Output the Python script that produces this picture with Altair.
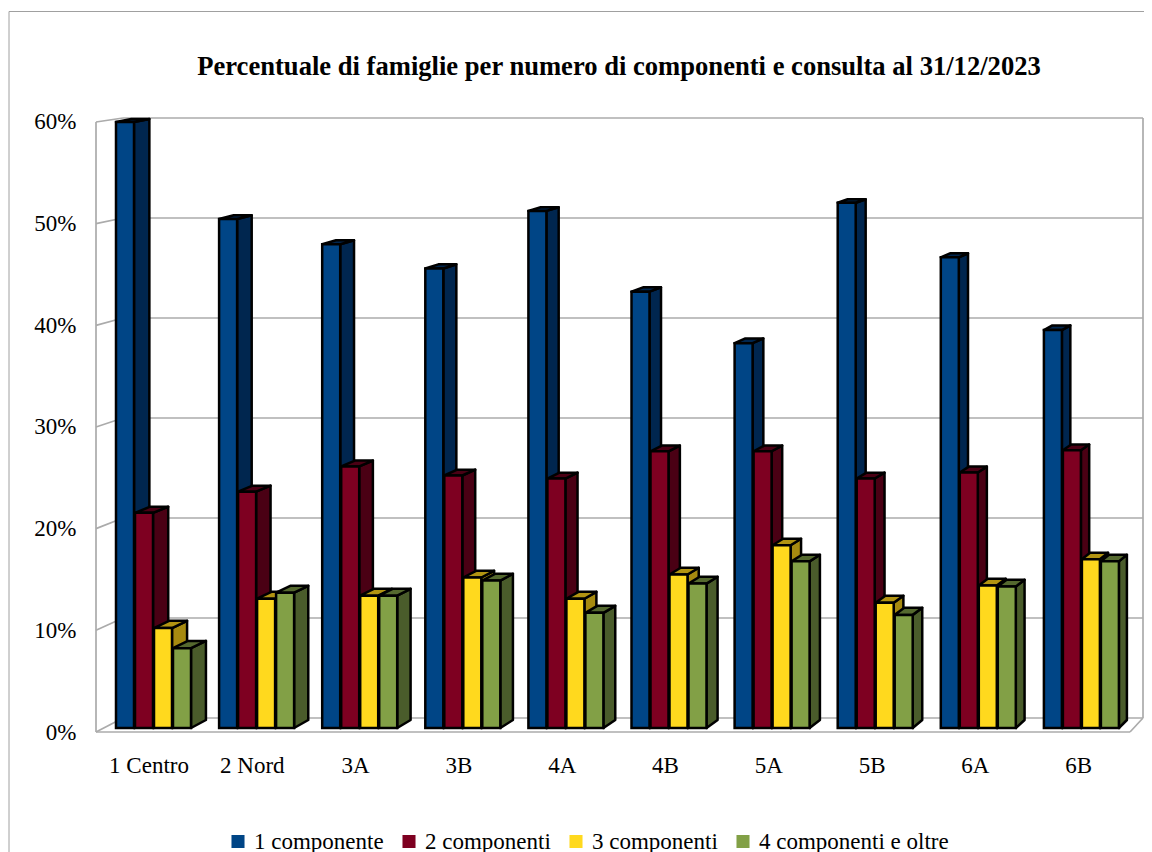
import altair as alt
import pandas as pd

CATEGORIES = ["1 Centro", "2 Nord", "3A", "3B", "4A", "4B", "5A", "5B", "6A", "6B"]
SERIES = ["1 componente", "2 componenti", "3 componenti", "4 componenti e oltre"]
V1 = [60.0, 50.4, 47.9, 45.5, 51.2, 43.2, 38.1, 52.0, 46.6, 39.4]
V2 = [21.3, 23.4, 25.9, 25.0, 24.7, 27.4, 27.4, 24.7, 25.3, 27.5]
V3 = [9.9, 12.8, 13.1, 14.9, 12.8, 15.2, 18.1, 12.4, 14.1, 16.7]
V4 = [7.9, 13.4, 13.1, 14.6, 11.4, 14.3, 16.5, 11.2, 14.0, 16.5]
VALUES = [V1, V2, V3, V4]
FRONT = ["#004586", "#7E0021", "#FFD91E", "#82A046"]
SIDE = ["#00264F", "#4A0014", "#A68A10", "#4A5C2B"]
TOP = ["#00264F", "#4A0014", "#B29412", "#55692F"]
TICKS = [0, 10, 20, 30, 40, 50, 60]
FONT = "Liberation Serif"
GRAY = "#ABABAB"

W, H = 1136, 844
BOTTOM = 8 + H
RIGHT = 8 + W


def ux(p):  # page pixel -> x unit (one unit per group)
    return (p - 148.5) / 103.3


XDOM = [ux(8), ux(RIGHT)]
YFRONT = [(732 - BOTTOM) / 10.167, (732 - 8) / 10.167]
YBAR = [(728 - BOTTOM) / 10.1, (728 - 8) / 10.1]
xs = alt.Scale(domain=XDOM, nice=False, zero=False)
yf = alt.Scale(domain=YFRONT, nice=False, zero=False)
yb = alt.Scale(domain=YBAR, nice=False, zero=False)

xaxis = alt.Axis(
    values=list(range(10)), title=None, domain=False, ticks=False, grid=False,
    labelExpr="['" + "','".join(CATEGORIES) + "'][datum.value]",
    labelFont=FONT, labelFontSize=23, labelColor="#000000", labelPadding=0,
    labelBaseline="middle", offset=-(BOTTOM - 765), labelFlush=False, labelOverlap=False)


def back(v):  # back-plane level in front-plane units
    return (732 - (718 - 10 * v)) / 10.167


WALL_R = RIGHT - 1
walls = []
for t in TICKS:
    walls.append(dict(x=ux(123), x2=ux(WALL_R), y=back(t), y2=back(t)))
    walls.append(dict(x=ux(96), x2=ux(123), y=t, y2=back(t)))
walls.append(dict(x=ux(96), x2=ux(96), y=0, y2=60))
walls.append(dict(x=ux(WALL_R), x2=ux(WALL_R), y=back(0), y2=back(60)))
walls.append(dict(x=ux(1130), x2=ux(WALL_R), y=0, y2=back(0)))
walls.append(dict(x=ux(96), x2=ux(1130), y=0, y2=0))
walls_df = pd.DataFrame(walls)

wall_layer = alt.Chart(walls_df).mark_rule(color=GRAY, strokeWidth=1.7).encode(
    x=alt.X("x:Q", scale=xs, axis=xaxis),
    x2="x2:Q",
    y=alt.Y("y:Q", scale=yf, axis=alt.Axis(
        values=TICKS, title=None, domain=False, grid=False, ticks=False,
        labelExpr="datum.value + '%'", labelFont=FONT, labelFontSize=23,
        labelColor="#000000", labelPadding=20, offset=-88, labelBaseline="middle")),
    y2="y2:Q",
)

frame_df = pd.DataFrame({"k": [0]})
frame_top = alt.Chart(frame_df).mark_rule(color="#A0A0A0", strokeWidth=1).encode(
    x=alt.value(1), x2=alt.value(W), y=alt.value(3.5))
frame_left = alt.Chart(frame_df).mark_rule(color="#A0A0A0", strokeWidth=1).encode(
    x=alt.value(1), y=alt.value(3.5), y2=alt.value(H))


def dxf(p):
    return 15.5 - 7.5 * (p - 116) / 1004


def dyf(v):
    return (8 - 0.085 * v) / 10.1


layers = []
for s, name in enumerate(SERIES):
    front, side, top = [], [], []
    for i, cat in enumerate(CATEGORIES):
        v = VALUES[s][i]
        p0 = 116 + 103.1 * i + 19 * s
        p1 = p0 + 18
        d = dxf(p1)
        dv = dyf(v)
        dv0 = dyf(0)
        front.append(dict(x=ux(p0), x2=ux(p1), y=v, y2=0, serie=name, cat=cat))
        side += [
            dict(g=i, x=ux(p1), y=v, y2=0),
            dict(g=i, x=ux(p1 + d), y=v + dv, y2=dv0),
        ]
        top += [
            dict(g=i, x=ux(p0), y=v, y2=v),
            dict(g=i, x=ux(p0 + d), y=v + dv, y2=v),
            dict(g=i, x=ux(p1), y=v + dv, y2=v),
            dict(g=i, x=ux(p1 + d), y=v + dv, y2=v + dv),
        ]
    for data, col in ((side, SIDE[s]), (top, TOP[s])):
        layers.append(
            alt.Chart(pd.DataFrame(data)).mark_area(
                color=col, stroke="#000000", strokeWidth=2.5, strokeJoin="round", interpolate="linear"
            ).encode(
                x=alt.X("x:Q", scale=xs, axis=xaxis),
                y=alt.Y("y:Q", scale=yb, axis=None),
                y2="y2:Q",
                detail="g:N",
            )
        )
    layers.append(
        alt.Chart(pd.DataFrame(front)).mark_bar(stroke="#000000", strokeWidth=2.5).encode(
            x=alt.X("x:Q", scale=xs, axis=xaxis),
            x2="x2:Q",
            y=alt.Y("y:Q", scale=yb, axis=None),
            y2="y2:Q",
            color=alt.Color("serie:N", scale=alt.Scale(domain=SERIES, range=FRONT), legend=alt.Legend(
                orient="none", legendX=218.5, legendY=822, direction="horizontal", columns=4,
                title=None, symbolType="square", symbolSize=170, symbolStrokeColor="transparent",
                symbolStrokeWidth=0, labelFont=FONT, labelFontSize=23, labelColor="#000000",
                labelOffset=4.5, columnPadding=13, gridAlign="none", labelLimit=400)),
        )
    )

chart = alt.layer(frame_top, frame_left, wall_layer, *layers).resolve_scale(
    y="independent"
).properties(
    width=W, height=H, padding=0,
    autosize=alt.AutoSizeParams(type="none"),
    title=alt.TitleParams(
        "Percentuale di famiglie per numero di componenti e consulta al 31/12/2023",
        font=FONT, fontSize=26.6, fontWeight="bold", color="#000000",
        anchor="middle", frame="group", dx=43, dy=77),
).configure_view(stroke=None)

chart.save("out.html", embed_options={"renderer": "svg", "actions": False})
